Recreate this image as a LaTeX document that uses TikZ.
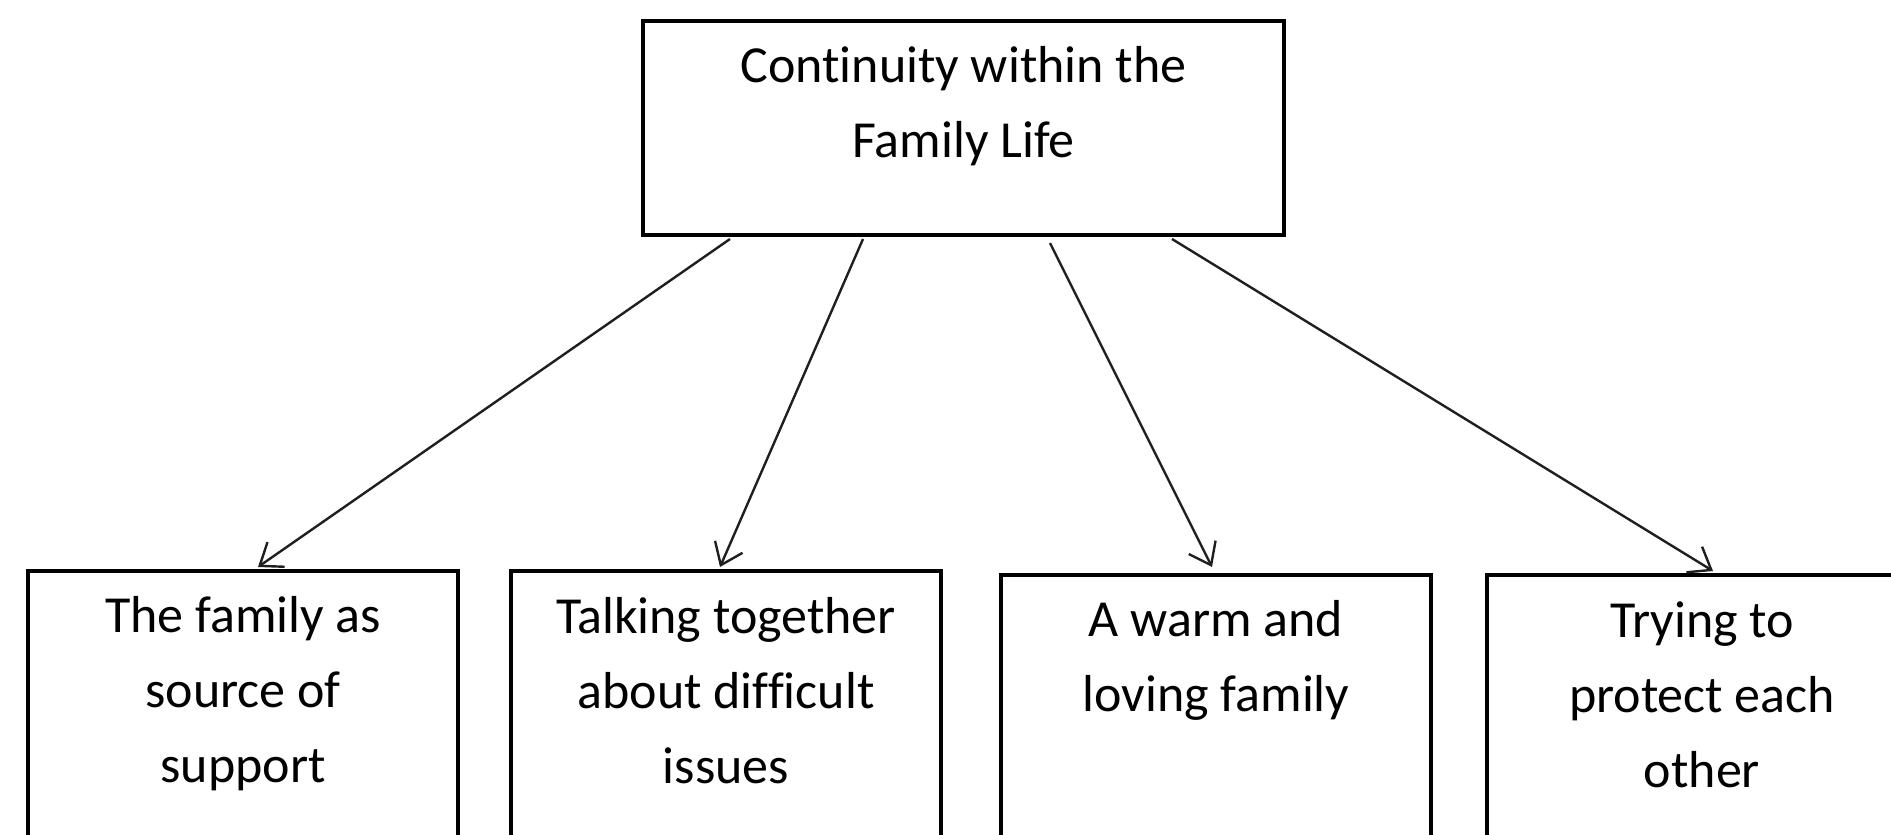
\documentclass[tikz,border=0pt]{standalone}
\usepackage{fontspec}
\setmainfont{Carlito}[Ligatures=NoCommon]
\usetikzlibrary{arrows.meta,calc}
\begin{document}
\begin{tikzpicture}[x=1bp,y=-1bp,
  box/.style={draw=black,line width=4bp,inner sep=0pt,anchor=north west,
              minimum width=430bp,minimum height=420bp},
  topbox/.style={draw=black,line width=4bp,inner sep=0pt,anchor=north west,
              minimum width=641bp,minimum height=214bp},
  txt/.style={inner sep=0pt,align=center,anchor=base,
              font=\fontsize{52bp}{75bp}\selectfont},
  arr/.style={draw=black!88,line width=2.4bp,
              -{Straight Barb[length=20bp,width=30bp,line width=2.4bp]}}]
\useasboundingbox (0,0) rectangle (1891,835);
\clip (0,0) rectangle (1891,835);
% top box
\node[topbox] (top) at (641,19) {};
\node[txt] (ttop) at ($(top.north)+(0,138)$) {Continuity within the\\Family Life};
% bottom boxes
\node[box] (b1) at (26,569) {};
\node[box] (b2) at (509,569) {};
\node[box] (b3) at (999,573) {};
\node[box] (b4) at (1485,573) {};
\node[txt] (t1) at ($(b1.north)+(0,213)$) {The family as\\source of\\support};
\node[txt] (t2) at ($(b2.north)+(0,214)$) {Talking together\\about difficult\\issues};
\node[txt] (t3) at ($(b3.north)+(0,138)$) {A warm and\\loving family};
\node[txt] (t4) at ($(b4.north)+(0,214)$) {Trying to\\protect each\\other};
% arrows
\draw[arr] ($(top.south west)+(89,2)$) -- ($(b1.north west)+(232,-2)$);
\draw[arr] ($(top.south west)+(222,2)$) -- ($(b2.north west)+(211,-2)$);
\draw[arr] ($(top.south west)+(409,6)$) -- ($(b3.north west)+(213,-6)$);
\draw[arr] ($(top.south west)+(531,2)$) -- ($(b4.north west)+(228,-2)$);
\end{tikzpicture}
\end{document}
